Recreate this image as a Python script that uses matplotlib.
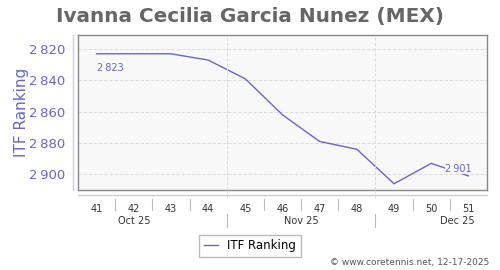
import matplotlib.pyplot as plt
from matplotlib.lines import Line2D
import matplotlib.transforms as mtransforms

weeks = [41, 42, 43, 44, 45, 46, 47, 48, 49, 50, 51]
ranking = [2823, 2823, 2823, 2827, 2839, 2862, 2879, 2884, 2906, 2893, 2901]
months = ["Oct 25", "Nov 25", "Dec 25"]
month_pos = [42, 46.5, 50.7]
month_breaks = [44.5, 48.5]
yticks = [2820, 2840, 2860, 2880, 2900]

purple = "#6666cc"
fig = plt.figure(figsize=(5, 2.7), dpi=100)
ax = fig.add_axes([78 / 500, 80 / 270, 409 / 500, 155 / 270])
ax.set_facecolor("#f8f8f8")

line, = ax.plot(weeks, ranking, color=purple, lw=1, label="ITF Ranking")
ax.set_xlim(40.5, 51.5)
ax.set_ylim(2910, 2811)

ax.set_yticks(yticks)
ax.set_yticklabels(["2\u2009%03d" % (v - 2000) for v in yticks], color=purple, fontsize=9.5)
ax.tick_params(axis="y", length=0, pad=9)
ax.set_ylabel("ITF Ranking", color=purple, fontsize=11, labelpad=0)

ax.set_xticks(weeks)
ax.set_xticklabels([str(w) for w in weeks], fontsize=7, color="#333333")
ax.tick_params(axis="x", length=0, pad=10)

ax.grid(axis="y", color="#dddddd", ls="--", lw=0.7)
for b in month_breaks:
    ax.axvline(b, color="#dddddd", ls="--", lw=0.7)
for s in ax.spines.values():
    s.set_color("#888888")
    s.set_linewidth(1)

# values at first and last point
ax.annotate("2\u2009823", (weeks[0], ranking[0]), xytext=(0, -10), textcoords="offset points",
            color=purple, fontsize=7, ha="left", va="center")
ax.annotate("2\u2009901", (weeks[-1], ranking[-1]), xytext=(-7, 5), textcoords="offset points",
            color=purple, fontsize=7, ha="center", va="center",
            bbox=dict(boxstyle="square,pad=0.05", fc="#f8f8f8", ec="none"))

h = 155.0
tr = mtransforms.blended_transform_factory(ax.transData, ax.transAxes)
# left value axis line and bottom axis line
fig.add_artist(Line2D([-5 / 409, -5 / 409], [0, 1], transform=ax.transAxes, color="#ccccee", lw=1, clip_on=False))
fig.add_artist(Line2D([0, 1], [-5 / h, -5 / h], transform=ax.transAxes, color="#cccccc", lw=1, clip_on=False))
for x in [w + 0.5 for w in weeks[:-1]]:
    if x in month_breaks:
        continue
    fig.add_artist(Line2D([x, x], [-9 / h, -20 / h], transform=tr, color="#bbbbbb", lw=0.8, clip_on=False))
for b in month_breaks:
    fig.add_artist(Line2D([b, b], [0, -8 / h], transform=tr, color="#dddddd", ls="--", lw=0.7, clip_on=False))
    fig.add_artist(Line2D([b, b], [-24 / h, -37 / h], transform=tr, color="#bbbbbb", lw=0.8, clip_on=False))
for m, p in zip(months, month_pos):
    ax.text(p, -31 / h, m, transform=tr, ha="center", va="center", fontsize=7, color="#333333")

fig.text(0.5, 0.94, "Ivanna Cecilia Garcia Nunez (MEX)", ha="center", va="center",
         fontsize=14.4, fontweight="bold", color="#666666")
fig.legend(handles=[line], loc="center", bbox_to_anchor=(0.5, 1 - 246 / 270), fontsize=8.5,
           frameon=True, fancybox=False, edgecolor="#aaaaaa", handlelength=1.2, borderpad=0.4)
fig.text(0.978, 1 - 263 / 270, "\u00a9 www.coretennis.net, 12-17-2025", ha="right", va="center",
         fontsize=6.5, color="#555555")

fig.savefig("out.png", dpi=100)
